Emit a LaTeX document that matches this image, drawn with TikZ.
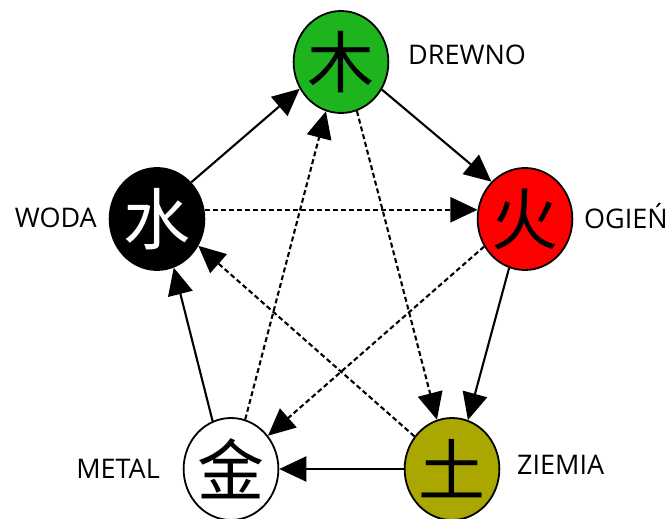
\documentclass[tikz,border=0pt]{standalone}
\usepackage{fontspec}
\setmainfont{Open Sans}
\newfontfamily\cjk{Noto Sans CJK SC}
\usetikzlibrary{arrows.meta,shapes.geometric}
\definecolor{woodc}{RGB}{30,180,30}
\definecolor{firec}{RGB}{255,0,0}
\definecolor{earthc}{RGB}{170,168,0}
\begin{document}
\begin{tikzpicture}[x=1pt,y=-1pt,
  elem/.style={ellipse,draw=black,line width=1.8pt,minimum width=92pt,minimum height=102pt,inner sep=0pt,font=\cjk\fontsize{67}{67}\selectfont},
  lbl/.style={inner sep=0pt,font=\fontsize{27}{27}\selectfont},
  gen/.style={line width=2.1pt,-{Triangle[length=27pt,width=25pt]}},
  ctl/.style={gen,dash pattern=on 5pt off 3pt}]
\useasboundingbox (0,0) rectangle (670,519);
\node[elem,fill=woodc] (W) at (341,62) {木};
\node[elem,fill=firec] (F) at (525,219) {火};
\node[elem,fill=black,text=white] (A) at (157,219) {水};
\node[elem,fill=white] (M) at (231,469) {金};
\node[elem,fill=earthc] (E) at (452,469) {土};
\node[lbl,anchor=base west] (lw) at (408,65) {DREWNO};
\node[lbl,anchor=base west] (lf) at (584,228) {OGIEŃ};
\node[lbl,anchor=base east] (la) at (97,227) {WODA};
\node[lbl,anchor=base east] (lm) at (160,478) {METAL};
\node[lbl,anchor=base west] (le) at (517,474) {ZIEMIA};
% generating cycle
\draw[gen] (A.47) -- (W.213);
\draw[gen] (W.-34) -- (F.132);
\draw[gen] (F.252) -- (E.72);
\draw[gen] (E.west) -- (M.east);
\draw[gen] (M.111) -- (A.-71);
% controlling cycle
\draw[ctl] (A.11) -- (F.169);
\draw[ctl] (W.-72) -- (E.107);
\draw[ctl] (E.139) -- (A.-33);
\draw[ctl] (M.74) -- (W.253);
\draw[ctl] (F.214) -- (M.42);
\end{tikzpicture}
\end{document}
